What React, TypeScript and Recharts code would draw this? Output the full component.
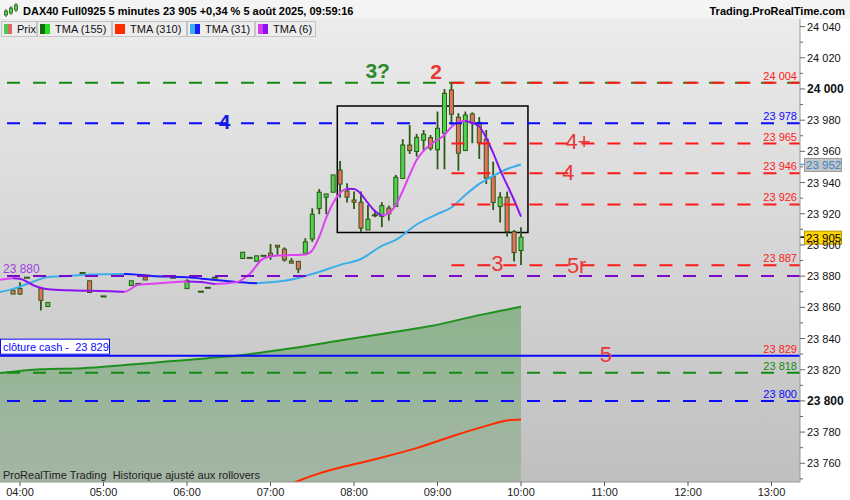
import React from 'react';
import {
  ComposedChart,
  XAxis,
  YAxis,
  Bar,
  Line,
  Area,
  CartesianGrid,
  ReferenceLine,
  ReferenceArea,
  ReferenceDot,
} from 'recharts';

// visible 5-minute candles (bars hidden under the averages are left out)
const candleTimes = [
  '03:55', '04:00', '04:05', '04:15', '04:20', '04:45', '04:50', '05:00', '05:20', '05:25', '05:30', '05:50',
  '06:00', '06:10', '06:15', '06:20', '06:40', '06:45', '06:50', '06:55', '07:00', '07:05', '07:10', '07:15',
  '07:20', '07:25', '07:30', '07:35', '07:40', '07:45', '07:50', '07:55', '08:00', '08:05', '08:10', '08:15',
  '08:20', '08:25', '08:30', '08:35', '08:40', '08:45', '08:50', '08:55', '09:00', '09:05', '09:10', '09:15',
  '09:20', '09:25', '09:30', '09:35', '09:40', '09:45', '09:50', '09:55', '10:00',
];
const opens = [
  23871, 23872, 23879, 23872, 23860.5, 23882, 23877, 23867, 23874, 23875, 23879.5, 23879,
  23872, 23870, 23872.5, 23879, 23891.3, 23891.7, 23889.5, 23893, 23894.7, 23899.8, 23897.3, 23889.7,
  23889.5, 23894.7, 23903.8, 23923.3, 23930.6, 23933.8, 23948, 23934.6, 23928.8, 23927.4, 23909.6, 23919,
  23918.2, 23923.6, 23924.6, 23942.6, 23964, 23959.9, 23967.1, 23968.8, 23961, 23971.6, 23999.4, 23981.9,
  23960.5, 23984, 23978.5, 23967.8, 23943.8, 23924.6, 23930.6, 23908.5, 23896.4,
];
const highs = [
  23871, 23876, 23879, 23872, 23863.5, 23882, 23877, 23867, 23877, 23875, 23879.5, 23879,
  23878, 23870, 23872.5, 23879, 23895.3, 23891.7, 23893, 23893, 23900.6, 23899.8, 23898.4, 23891.5,
  23889.5, 23904.3, 23923.5, 23935.8, 23932.7, 23944.9, 23953.8, 23939.6, 23934.2, 23934.2, 23925.6, 23922.4,
  23927.4, 23925.2, 23944.9, 23967.8, 23976.9, 23971.2, 23973.7, 23970.5, 23985.5, 24000, 24004, 23984.5,
  23985.5, 23985, 23982, 23973.7, 23953.4, 23933.8, 23934.2, 23909.6, 23911.4,
];
const lows = [
  23868.5, 23868, 23879, 23858, 23860.5, 23882, 23869.5, 23867, 23874, 23875, 23877.5, 23879,
  23872, 23870, 23872.5, 23879, 23891.3, 23891.7, 23889.5, 23893, 23890.4, 23893.6, 23889.3, 23888.3,
  23882, 23894.7, 23902, 23919.7, 23919.7, 23933.8, 23930.3, 23927.2, 23923, 23908.5, 23909.6, 23917.8,
  23911.4, 23915.6, 23924.6, 23942.6, 23958.3, 23956.6, 23960.5, 23960.5, 23948.5, 23948.5, 23976.9, 23947.6,
  23960.5, 23965.2, 23955.1, 23939.1, 23922.4, 23914.3, 23905.4, 23889.3, 23887.2,
];
const closes = [
  23868.5, 23868.5, 23879, 23864.5, 23863, 23882, 23869.5, 23867, 23877, 23875, 23877.5, 23879,
  23877, 23870, 23872.5, 23879, 23895.3, 23891.7, 23893, 23893, 23893.2, 23898.6, 23890.4, 23888.3,
  23884.5, 23902, 23919.7, 23933.8, 23932.7, 23944.9, 23939, 23930.6, 23927.4, 23910.8, 23916.5, 23919,
  23925.2, 23920, 23943.4, 23964.1, 23960.5, 23969, 23971, 23962, 23974.8, 23997.2, 23983.8, 23958.8,
  23983.3, 23978, 23965.6, 23942.8, 23927.2, 23930.6, 23908.5, 23895.1, 23905,
];

const tma6Times = [
  '03:45', '03:55', '04:00', '04:10', '04:20', '04:35', '04:50', '05:05', '05:15', '05:25', '05:40', '06:00',
  '06:10', '06:20', '06:35', '06:45', '06:55', '07:05', '07:15', '07:25', '07:30', '07:35', '07:40', '07:45',
  '07:50', '07:55', '08:00', '08:05', '08:10', '08:15', '08:20', '08:25', '08:30', '08:35', '08:40', '08:45',
  '08:50', '08:55', '09:00', '09:05', '09:10', '09:15', '09:20', '09:25', '09:30', '09:35', '09:40', '09:45',
  '09:50', '09:55', '10:00',
];
const tma6Values = [
  23877.5, 23878.7, 23878.3, 23874, 23871.6, 23870.9, 23870.6, 23870.3, 23870.0, 23874.4, 23875.4, 23876.6,
  23876.3, 23875.0, 23876.0, 23881.4, 23891.3, 23893.2, 23893.5, 23893.8, 23896.5, 23905.1, 23917.3, 23926.9,
  23933.3, 23936.0, 23935.8, 23932.7, 23926.9, 23921.8, 23919.0, 23920.3, 23925.6, 23934.6, 23944.9, 23954.5,
  23960.3, 23964.4, 23967.3, 23970.5, 23975.6, 23978.8, 23979.5, 23978.2, 23976.0, 23968.6, 23959.0, 23948.1,
  23938.5, 23928.8, 23918.1,
];

const tma31Times = [
  '03:45', '03:55', '04:00', '04:10', '04:20', '04:35', '04:50', '05:15', '05:35', '06:00', '06:15', '06:35',
  '06:50', '07:00', '07:10', '07:20', '07:35', '07:50', '08:05', '08:20', '08:30', '08:45', '09:00', '09:10',
  '09:20', '09:30', '09:40', '09:50', '10:00',
];
const tma31Values = [
  23869.7, 23871.8, 23873.3, 23876.6, 23879.5, 23880.1, 23881.0, 23881.4, 23880.1, 23879.2, 23878.0, 23876.3,
  23875.5, 23876.0, 23877.0, 23878.8, 23882.7, 23887.2, 23891.0, 23899.4, 23903.2, 23913.1, 23919.9, 23924.0,
  23932.0, 23939.1, 23944.2, 23948.7, 23951.6,
];

const tma155Times = ['03:45', '04:15', '04:45', '05:15', '05:45', '06:15', '06:35', '07:10', '07:50', '08:30', '08:55', '09:30', '10:00'];
const tma155Values = [23817.8, 23820.3, 23821.0, 23823.0, 23825.2, 23827.4, 23829.0, 23833.1, 23838.7, 23844.4, 23848.0, 23855.0, 23860.3];

const tma310Times = ['07:05', '07:20', '07:35', '08:10', '08:45', '09:10', '09:35', '09:50', '10:00'];
const tma310Values = [23743.6, 23748.7, 23753.5, 23761.5, 23769.7, 23777.2, 23784.0, 23787.5, 23788.1];

const redLevels = [24004, 23965, 23946, 23926, 23887];
const greenLevels = [24004, 23818];
const blueLevels = [23978, 23800];
const purpleLevels = [23880];
const cashClose = 23829;
const levelsFrom = '09:10';

const noteTexts = ['3?', '2', '4', '4+', '4', '5r', '3', '5'];
const noteTimes = ['08:17', '08:59', '06:27', '10:41', '10:34', '10:40', '09:43', '11:01'];
const notePrices = [24012, 24011, 23979, 23966, 23946.5, 23887, 23888, 23830];

const boxTimes = ['07:48', '10:05'];
const boxPrices = [23908, 23989];

const hourLabels = ['04:00', '05:00', '06:00', '07:00', '08:00', '09:00', '10:00', '11:00', '12:00', '13:00'];
const legendNames = ['Prix', 'TMA (155)', 'TMA (310)', 'TMA (31)', 'TMA (6)'];
const title = 'DAX40 Full0925 5 minutes 23 905 +0,34 % 5 août 2025, 09:59:16';

// ---- layout / styles
const FONT = '"Liberation Sans", Arial, sans-serif';
const PX_PER_HOUR = 83.5;
const X_MIN = 240 - (20 * 60) / PX_PER_HOUR;
const X_MAX = X_MIN + (800 * 60) / PX_PER_HOUR;
const Y_MIN = 23748;
const Y_MAX = 24045.5;

const RED = '#ff1a1a';
const GREEN = '#138a13';
const BLUE = '#0a0aff';
const PURPLE = '#7a0ac8';
const WICK = '#2b5a14';
const NOTE_COLORS = ['#2a8a2a', '#e83838', '#1a1ae0', '#e83838', '#e83838', '#e83838', '#e83838', '#e83838'];
const NOTE_BOLD = [true, true, true, false, false, false, false, false];
const TAB_WIDTHS = [36, 75, 75, 68, 61];
const TAB_SWATCHES = [
  ['#4ec94e', '#e06666'],
  ['#0b6e0b', '#22dd22'],
  ['#ff2a00', '#ff2a00'],
  ['#3aaeea', '#1a1aff'],
  ['#d83cf0', '#8a12f0'],
];

const toMin = (s: string) => {
  const [h, m] = s.split(':').map(Number);
  return h * 60 + m;
};
const fmtTime = (v: number) => `${String(Math.floor(v / 60)).padStart(2, '0')}:${String(v % 60).padStart(2, '0')}`;
const fmtPrice = (v: number) => {
  const r = Math.round(v);
  return `${Math.floor(r / 1000)} ${String(r % 1000).padStart(3, '0')}`;
};

type Row = { t: number; [k: string]: any };
const rowMap = new Map<number, Row>();
const rowAt = (s: string) => {
  const t = toMin(s);
  if (!rowMap.has(t)) rowMap.set(t, { t });
  return rowMap.get(t)!;
};
candleTimes.forEach((s, i) =>
  Object.assign(rowAt(s), { o: opens[i], h: highs[i], l: lows[i], c: closes[i], range: [lows[i], highs[i]] }),
);
tma6Times.forEach((s, i) => (rowAt(s).tma6 = tma6Values[i]));
tma31Times.forEach((s, i) => (rowAt(s).tma31 = tma31Values[i]));
tma155Times.forEach((s, i) => (rowAt(s).tma155 = tma155Values[i]));
tma310Times.forEach((s, i) => (rowAt(s).tma310 = tma310Values[i]));
const rows = [...rowMap.values()].sort((a, b) => a.t - b.t);

const hourTicks = hourLabels.map(toMin);
const yTicks: number[] = [];
for (let v = 23750; v <= 24040; v += 10) yTicks.push(v);

// colour switch where the average turns up / down
function slopeStops(times: string[], values: number[]) {
  const ts = times.map(toMin);
  const t0 = ts[0];
  const span = ts[ts.length - 1] - t0;
  const out: { offset: number; up: boolean }[] = [];
  for (let i = 0; i < values.length - 1; i++) {
    const up = values[i + 1] >= values[i];
    out.push({ offset: (ts[i] - t0) / span, up }, { offset: (ts[i + 1] - t0) / span, up });
  }
  return out;
}

const Candle = (props: any) => {
  const { x, y, width, height, payload } = props;
  if (!payload || payload.o == null || !Number.isFinite(y)) return null;
  const { o, h, l, c } = payload;
  const cx = x + width / 2;
  const top = Math.min(y, y + height);
  const span = Math.abs(height);
  const k = h > l ? span / (h - l) : 0;
  const py = (v: number) => top + (h - v) * k;
  const yo = py(o);
  const yc = py(c);
  const wick = h > l ? <line x1={cx} x2={cx} y1={top} y2={top + span} stroke={WICK} strokeWidth={1.8} /> : null;
  if (Math.abs(c - o) < 0.3) {
    return (
      <g>
        {wick}
        <rect x={cx - 3} y={yo - 1} width={6} height={2} fill={WICK} />
      </g>
    );
  }
  const bt = Math.min(yo, yc);
  const bh = Math.max(Math.abs(yo - yc), 1.5);
  return (
    <g>
      {wick}
      <rect x={cx - 2} y={bt} width={4} height={bh} fill={c > o ? '#4fd24f' : '#e8705e'} stroke={WICK} strokeWidth={1} />
    </g>
  );
};

const PriceTick = (props: any) => {
  const { x, y, payload } = props;
  const v = payload.value;
  const major = v % 20 === 0;
  const bold = v % 200 === 0;
  return (
    <g>
      <line x1={x} x2={x + (major ? 5 : 3)} y1={y} y2={y} stroke="#666" />
      {major && (
        <text x={x + 7} y={y + 4} fontSize={bold ? 12 : 11} fontWeight={bold ? 'bold' : 'normal'} fill="#111">
          {fmtPrice(v)}
        </text>
      )}
    </g>
  );
};

const PriceTag = (props: any) => {
  const { viewBox, text, bg, fg, border, tick } = props;
  if (!viewBox) return null;
  const x = viewBox.x + viewBox.width;
  const y = viewBox.y;
  return (
    <g>
      <line x1={x} x2={x + 4} y1={y} y2={y} stroke={tick} strokeWidth={1.5} />
      <rect x={x + 4.5} y={y - 6} width={37} height={13} fill={bg} stroke={border} />
      <text x={x + 6} y={y + 4.5} fontSize={11.5} fill={fg}>
        {text}
      </text>
    </g>
  );
};

const CashLabel = (props: any) => {
  const { viewBox, text } = props;
  if (!viewBox) return null;
  const { x, y } = viewBox;
  return (
    <g>
      <rect x={x + 0.5} y={y - 16.5} width={109} height={15} fill="#fff" stroke={BLUE} />
      <text x={x + 3} y={y - 5} fontSize={11} fill={BLUE} style={{ whiteSpace: 'pre' }}>
        {text}
      </text>
    </g>
  );
};

const NoteMark = (props: any) => (
  <text
    x={props.cx}
    y={props.cy}
    textAnchor="middle"
    dominantBaseline="central"
    fontSize={props.bold ? 21 : 22}
    fontWeight={props.bold ? 'bold' : 'normal'}
    fill={props.color}
  >
    {props.text}
  </text>
);

const rightLabel = (v: number, color: string) => ({
  value: fmtPrice(v),
  position: 'insideBottomRight' as const,
  fill: color,
  fontSize: 11,
  offset: 3,
});

export default function App() {
  const stops6 = slopeStops(tma6Times, tma6Values);
  const stops31 = slopeStops(tma31Times, tma31Values);
  const lastClose = closes[closes.length - 1];
  const last31 = tma31Values[tma31Values.length - 1];

  return (
    <div
      style={{
        position: 'absolute',
        left: 0,
        top: 0,
        width: 850,
        height: 500,
        background: '#fff',
        overflow: 'hidden',
        fontFamily: FONT,
      }}
    >
      <ComposedChart width={850} height={500} data={rows} margin={{ top: 18, right: 0, bottom: 0, left: 0 }}>
        <defs>
          <linearGradient id="plotBg" x1="0" y1="0" x2="0" y2="1">
            <stop offset="0" stopColor="#ececec" />
            <stop offset="1" stopColor="#bfbfbf" />
          </linearGradient>
          <linearGradient id="cloud" x1="0" y1="0" x2="0" y2="1">
            <stop offset="0" stopColor="#2e8b2e" stopOpacity={0.42} />
            <stop offset="1" stopColor="#5d9a5d" stopOpacity={0.28} />
          </linearGradient>
          <linearGradient id="g6" x1="0" y1="0" x2="1" y2="0">
            {stops6.map((s, i) => (
              <stop key={i} offset={s.offset} stopColor={s.up ? '#dd40f2' : '#8a14f0'} />
            ))}
          </linearGradient>
          <linearGradient id="g31" x1="0" y1="0" x2="1" y2="0">
            {stops31.map((s, i) => (
              <stop key={i} offset={s.offset} stopColor={s.up ? '#3aaeea' : '#1a1aff'} />
            ))}
          </linearGradient>
        </defs>
        <CartesianGrid stroke="none" fill="url(#plotBg)" />
        <XAxis
          dataKey="t"
          type="number"
          domain={[X_MIN, X_MAX]}
          allowDataOverflow
          ticks={hourTicks}
          interval={0}
          tickFormatter={fmtTime}
          height={18}
          tickSize={4}
          tickMargin={2}
          tick={{ fontSize: 11, fill: '#222' }}
          axisLine={{ stroke: '#999' }}
          tickLine={{ stroke: '#555' }}
        />
        <YAxis
          orientation="right"
          width={50}
          domain={[Y_MIN, Y_MAX]}
          allowDataOverflow
          ticks={yTicks}
          interval={0}
          tick={<PriceTick />}
          tickLine={false}
          tickSize={0}
          tickMargin={0}
          axisLine={{ stroke: '#999' }}
        />

        <Area
          dataKey="tma155"
          type="monotone"
          connectNulls
          baseValue={Y_MIN}
          stroke="#1f901f"
          strokeWidth={2}
          fill="url(#cloud)"
          fillOpacity={1}
          dot={false}
          activeDot={false}
          isAnimationActive={false}
        />
        <Bar dataKey="range" barSize={5} shape={<Candle />} isAnimationActive={false} />
        <Line dataKey="tma310" type="monotone" connectNulls stroke="#ff2a00" strokeWidth={2} dot={false} activeDot={false} isAnimationActive={false} />
        <Line dataKey="tma31" type="monotone" connectNulls stroke="url(#g31)" strokeWidth={2} dot={false} activeDot={false} isAnimationActive={false} />
        <Line dataKey="tma6" type="monotone" connectNulls stroke="url(#g6)" strokeWidth={2} dot={false} activeDot={false} isAnimationActive={false} />

        {greenLevels.map((p) => (
          <ReferenceLine
            key={`g${p}`}
            y={p}
            stroke={GREEN}
            strokeWidth={2}
            strokeDasharray="13 13"
            label={redLevels.includes(p) ? undefined : rightLabel(p, GREEN)}
          />
        ))}
        {blueLevels.map((p) => (
          <ReferenceLine key={`b${p}`} y={p} stroke={BLUE} strokeWidth={2} strokeDasharray="13 13" label={rightLabel(p, BLUE)} />
        ))}
        {purpleLevels.map((p) => (
          <ReferenceLine
            key={`p${p}`}
            y={p}
            stroke={PURPLE}
            strokeWidth={2}
            strokeDasharray="13 13"
            label={{ value: fmtPrice(p), position: 'insideBottomLeft', fill: '#a040e0', fontSize: 12, offset: 3 }}
          />
        ))}
        <ReferenceLine y={cashClose} stroke={BLUE} strokeWidth={2} label={rightLabel(cashClose, RED)} />
        <ReferenceLine y={cashClose} stroke="none" label={<CashLabel text={`clôture cash -  ${fmtPrice(cashClose)}`} />} />
        {redLevels.map((p) => (
          <ReferenceLine
            key={`r${p}`}
            segment={[
              { x: toMin(levelsFrom), y: p },
              { x: X_MAX, y: p },
            ]}
            stroke={RED}
            strokeWidth={2}
            strokeDasharray="13 13"
            label={rightLabel(p, RED)}
          />
        ))}

        <ReferenceArea
          x1={toMin(boxTimes[0])}
          x2={toMin(boxTimes[1])}
          y1={boxPrices[0]}
          y2={boxPrices[1]}
          fill="none"
          fillOpacity={0}
          stroke="#000"
          strokeWidth={1.5}
        />

        {noteTexts.map((txt, i) => (
          <ReferenceDot
            key={`n${i}`}
            x={toMin(noteTimes[i])}
            y={notePrices[i]}
            r={0}
            shape={<NoteMark text={txt} color={NOTE_COLORS[i]} bold={NOTE_BOLD[i]} />}
          />
        ))}

        <ReferenceLine
          y={last31}
          stroke="none"
          label={<PriceTag text={fmtPrice(last31)} bg="#c4c4c4" fg="#2f86d0" border="#9a9a9a" tick="#3aaeea" />}
        />
        <ReferenceLine
          y={lastClose}
          stroke="none"
          label={<PriceTag text={fmtPrice(lastClose)} bg="#ffd400" fg="#000" border="#b89a00" tick="#000" />}
        />
      </ComposedChart>

      {/* title bar */}
      <div style={{ position: 'absolute', left: 0, top: 0, width: 850, height: 19, background: '#f4f4f4' }}>
        <svg width={18} height={18} style={{ position: 'absolute', left: 2, top: 1 }}>
          <line x1={4} x2={4} y1={8} y2={16} stroke={WICK} />
          <rect x={2.5} y={10} width={3} height={4} fill="#4fd24f" stroke={WICK} strokeWidth={0.8} />
          <line x1={9} x2={9} y1={5} y2={14} stroke={WICK} />
          <rect x={7.5} y={7} width={3} height={5} fill="#4fd24f" stroke={WICK} strokeWidth={0.8} />
          <line x1={14} x2={14} y1={2} y2={11} stroke={WICK} />
          <rect x={12.5} y={4} width={3} height={5} fill="#4fd24f" stroke={WICK} strokeWidth={0.8} />
        </svg>
        <span style={{ position: 'absolute', left: 23, top: 5, fontSize: 11, fontWeight: 'bold', color: '#000', whiteSpace: 'pre' }}>
          {title}
        </span>
        <span style={{ position: 'absolute', right: 5, top: 5, fontSize: 11, fontWeight: 'bold', color: '#000' }}>
          Trading.ProRealTime.com
        </span>
      </div>

      {/* legend tabs */}
      <div style={{ position: 'absolute', left: 1, top: 21, height: 17, display: 'flex' }}>
        {legendNames.map((name, i) => (
          <div
            key={name}
            style={{
              width: TAB_WIDTHS[i],
              height: 16,
              boxSizing: 'border-box',
              border: '1px solid #c4c4c4',
              background: '#ededed',
              display: 'flex',
              alignItems: 'center',
              paddingLeft: 2,
              fontSize: 11,
              color: '#111',
            }}
          >
            <span style={{ display: 'inline-block', width: 5, height: 10, background: TAB_SWATCHES[i][0] }} />
            <span style={{ display: 'inline-block', width: 5, height: 10, background: TAB_SWATCHES[i][1], marginRight: 5 }} />
            {name}
          </div>
        ))}
      </div>

      <div style={{ position: 'absolute', left: 3, top: 469, fontSize: 11, color: '#222', whiteSpace: 'pre' }}>
        ProRealTime Trading  Historique ajusté aux rollovers
      </div>
    </div>
  );
}
